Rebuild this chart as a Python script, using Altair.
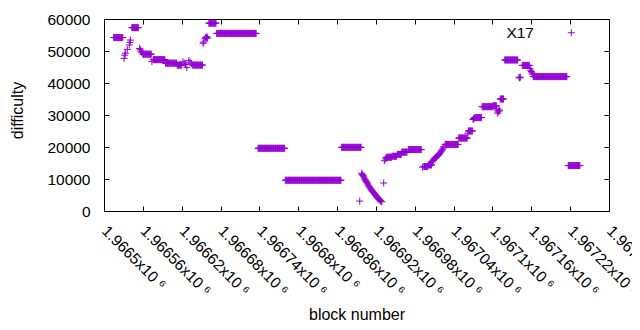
import altair as alt
import pandas as pd

# plateau runs: first block, last block, difficulty
run_first = [1966515, 1966543, 1966560, 1966576, 1966595, 1966613, 1966637, 1966662,
             1966674, 1966738, 1966780, 1966867, 1966936, 1966945, 1966953, 1966960,
             1966970, 1966994, 1967001, 1967027, 1967048, 1967063, 1967073, 1967084,
             1967101, 1967112, 1967119, 1967146, 1967163, 1967217]
run_last = [1966529, 1966553, 1966573, 1966594, 1966612, 1966620, 1966652, 1966673,
            1966735, 1966779, 1966866, 1966897, 1966944, 1966952, 1966959, 1966968,
            1966990, 1967000, 1967006, 1967047, 1967061, 1967069, 1967083, 1967100,
            1967106, 1967117, 1967139, 1967157, 1967215, 1967235]
run_value = [54200, 57300, 49000, 47300, 46200, 45600, 45600, 58700,
             55500, 19600, 9600, 19900, 16800, 17100, 17700, 18400,
             19200, 13900, 14400, 20800, 22800, 25000, 29200, 32600,
             32900, 35000, 47200, 45500, 42000, 14200]

# individual blocks
pt_block = [1966531, 1966532, 1966533, 1966536, 1966539, 1966540, 1966541,
            1966555, 1966556, 1966557, 1966558, 1966574,
            1966622, 1966624, 1966626, 1966628, 1966631, 1966633, 1966635,
            1966653, 1966654, 1966656, 1966657, 1966658, 1966659, 1966660,
            1966895,
            1966898, 1966899, 1966900, 1966901, 1966902, 1966903, 1966904, 1966905,
            1966906, 1966907, 1966908, 1966909, 1966910, 1966911, 1966912, 1966913,
            1966914, 1966915, 1966916, 1966917, 1966918, 1966919, 1966920, 1966921,
            1966922, 1966923, 1966924, 1966925, 1966926, 1966927, 1966928, 1966929,
            1966932, 1966933, 1966935, 1966992,
            1967007, 1967008, 1967009, 1967010, 1967011, 1967012, 1967013, 1967014,
            1967015, 1967016, 1967017, 1967018, 1967019, 1967020, 1967021, 1967022,
            1967023, 1967024, 1967025,
            1967062, 1967070, 1967071, 1967072,
            1967107, 1967108, 1967109, 1967110, 1967111,
            1967141, 1967142, 1967143,
            1967158, 1967159, 1967160, 1967161, 1967162]
pt_value = [47700, 48700, 49300, 50500, 51900, 52700, 53400,
            50800, 50400, 50000, 49600, 46700,
            46600, 46200, 45800, 44800, 47000, 46500, 46000,
            52400, 52800, 53800, 54200, 54200, 54500, 54000,
            3100,
            11800, 11400, 11100, 10700, 10300, 9900, 9600, 9200,
            8900, 8500, 8100, 7800, 7500, 7200, 6900, 6600,
            6300, 6100, 5800, 5600, 5300, 5100, 4800, 4500,
            4300, 4000, 3800, 3600, 3400, 3200, 3000, 2900,
            8750, 15700, 16300, 13700,
            15400, 15800, 16000, 16300, 16500, 16700, 16800, 17000,
            17200, 17400, 17600, 17800, 18100, 18400, 18700, 19000,
            19300, 19700, 20100,
            24300, 28600, 28900, 29000,
            31500, 30600, 31000, 31800, 31300,
            41800, 41600, 41800,
            44600, 44000, 43600, 43200, 42800]

x_ticks = [1966500, 1966560, 1966620, 1966680, 1966740, 1966800, 1966860,
           1966920, 1966980, 1967040, 1967100, 1967160, 1967220, 1967280]
y_ticks = [0, 10000, 20000, 30000, 40000, 50000, 60000]
series_name = "X17"

rows = []
for f, l, v in zip(run_first, run_last, run_value):
    for b in range(f, l + 1):
        rows.append((b, v))
rows += list(zip(pt_block, pt_value))
df = pd.DataFrame(rows, columns=["block", "difficulty"]).sort_values("block")
df["series"] = series_name

PLUS = "M-1,0L1,0M0,-1L0,1"
FONT = "Liberation Sans"
LBL = 15.5
TTL = 16
xscale = alt.Scale(domain=[1966500, 1967280], nice=False, zero=False)
yscale = alt.Scale(domain=[0, 60000], nice=False, zero=True)

points = alt.Chart(df).mark_point(
    shape=PLUS, size=49, strokeWidth=1, opacity=1, filled=False
).encode(
    x=alt.X("block:Q", scale=xscale, axis=alt.Axis(
        values=x_ticks, labelExpr="format(datum.value / 1000000, '.6~f') + 'x10 \u2076'",
        labelAngle=45, labelAlign="left", labelBaseline="middle", labelPadding=17,
        labelFont=FONT, labelFontSize=LBL, labelColor="#000000",
        offset=-5, tickSize=5, domain=False, grid=False, labelOverlap=False,
        title="block number", titleY=108, titleBaseline="middle",
        titleFont=FONT, titleFontSize=TTL, titleFontWeight="normal", titleColor="#000000",
        labelFlush=False)),
    y=alt.Y("difficulty:Q", scale=yscale, axis=alt.Axis(
        values=y_ticks, format="d", offset=-5, tickSize=5, labelPadding=14,
        labelFont=FONT, labelFontSize=LBL, labelColor="#000000",
        domain=False, grid=False, title="difficulty", titleX=-92, titleY=91,
        titleFont=FONT, titleFontSize=TTL, titleFontWeight="normal", titleColor="#000000",
        titleAngle=270, titleBaseline="middle", titleAlign="center")),
    color=alt.Color("series:N", scale=alt.Scale(range=["#9400d3"]), legend=alt.Legend(
        title=None, orient="none", legendX=459.5, legendY=6, symbolType=PLUS,
        symbolSize=49, symbolStrokeWidth=1, symbolOpacity=1, labelFontSize=LBL,
        labelFont=FONT, labelColor="#000000", labelAlign="right",
        labelOffset={"expr": "-45"}, padding=0)),
)

mirror = alt.Chart(df).mark_point(opacity=0).encode(
    x=alt.X("block:Q", scale=xscale, axis=alt.Axis(
        orient="top", values=x_ticks, labels=False, domain=False, grid=False,
        offset=-5, tickSize=5, title=None)),
    y=alt.Y("difficulty:Q", scale=yscale, axis=alt.Axis(
        orient="right", values=y_ticks, labels=False, domain=False, grid=False,
        offset=-5, tickSize=5, title=None)),
)

chart = alt.layer(points, mirror).resolve_axis(x="independent", y="independent").properties(
    width=505, height=192,
    autosize=alt.AutoSizeParams(type="none"),
    padding={"left": 96, "top": 11, "right": 23, "bottom": 111},
).configure_view(stroke="#000000", strokeWidth=1).configure_axis(
    tickColor="#000000", tickWidth=1
)

chart.save("out.html", embed_options={"renderer": "svg", "actions": False})
